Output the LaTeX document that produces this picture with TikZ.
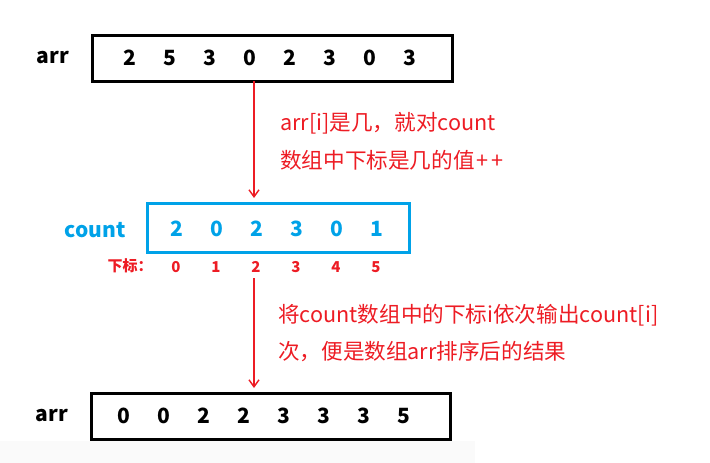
\documentclass[tikz,border=0pt]{standalone}
\usepackage{fontspec}
\setmainfont{Noto Sans CJK SC}
\newfontfamily\cjk{Noto Sans CJK SC}
\usetikzlibrary{arrows.meta}
\definecolor{myred}{HTML}{ED1C24}
\definecolor{myblue}{HTML}{00A2E8}
\tikzset{
  arrbox/.style={draw=black,line width=3pt,minimum height=46pt,inner sep=0pt},
  cntbox/.style={draw=myblue,line width=3pt,minimum height=49pt,inner sep=0pt},
  num/.style={font=\fontsize{21}{24}\selectfont\bfseries,inner sep=0pt},
  lbl/.style={font=\fontsize{21}{24}\selectfont\bfseries,inner sep=0pt},
  idx/.style={font=\fontsize{15}{16}\selectfont\bfseries,text=myred,inner sep=0pt},
  note/.style={font=\fontsize{21.6}{24}\selectfont,text=myred,inner sep=0pt,anchor=west},
  flow/.style={draw=myred,line width=1.6pt,-{Straight Barb[length=7pt,width=10pt,line width=1.4pt]}}
}
\begin{document}
\begin{tikzpicture}[x=1pt,y=-1pt]
\useasboundingbox (0,0) rectangle (710,463);
\fill[black!2] (0,441) rectangle (475,463);
% top array
\node[arrbox,minimum width=360pt] (top) at (272,58) {};
\node[lbl] (toplbl) at (53,58) {arr};
\foreach \v [count=\i from 0] in {2,5,3,0,2,3,0,3}
  \node[num] (t\i) at (130+40*\i,58) {\v};
% count array
\node[cntbox,minimum width=262pt] (cnt) at (278,227.5) {};
\node[lbl,text=myblue] (cntlbl) at (95,230) {count};
\foreach \v [count=\i from 0] in {2,0,2,3,0,1}
  \node[num,text=myblue] (c\i) at (177+40*\i,229) {\v};
\node[idx] (idxlbl) at (130,266) {下标：};
\foreach \i in {0,...,5}
  \node[idx] (x\i) at (176+40*\i,267) {\i};
% bottom array
\node[arrbox,minimum width=359pt] (bot) at (270.5,416) {};
\node[lbl] (botlbl) at (52,416) {arr};
\foreach \v [count=\i from 0] in {0,0,2,2,3,3,3,5}
  \node[num] (b\i) at (124+40*\i,416) {\v};
% arrows
\coordinate (a1s) at (254,81);
\coordinate (a1e) at (254,198);
\coordinate (a2s) at (254,278);
\coordinate (a2e) at (254,388);
\draw[flow] (a1s) -- (a1e);
\draw[flow] (a2s) -- (a2e);
% notes
\node[note] (n1) at (280,123) {arr[i]是几，就对count};
\node[note] (n2) at (280,160) {数组中下标是几的值\kern2pt+\kern3pt+};
\node[note] (n3) at (278,315) {将count数组中的下标i依次输出count[i]};
\node[note] (n4) at (278,352) {次，便是数组arr排序后的结果};
\end{tikzpicture}
\end{document}
